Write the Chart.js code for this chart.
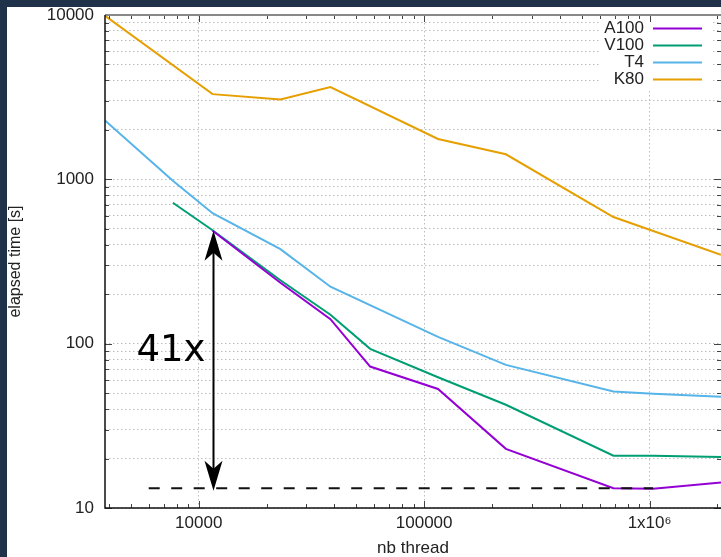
<!DOCTYPE html>
<html>
<head>
<meta charset="utf-8">
<script src="https://cdn.jsdelivr.net/npm/chart.js@4.4.1/dist/chart.umd.min.js"></script>
<style>
  html, body { margin: 0; padding: 0; background: #1f3249; overflow: hidden; }
  #wrap { position: absolute; left: 7px; top: 7px; width: 714px; height: 550px; background: #fff; }
</style>
</head>
<body>
<div id="wrap"><canvas id="timeChart" width="714" height="550"></canvas></div>
<script>
// nb thread on x, elapsed time [s] on y (both log)
var threads = [3840, 7680, 11520, 23040, 38400, 57600, 115200, 230400, 691200, 1036800, 2073600]
var a100 = [null, null, 486, 235, 141, 72.6, 53, 22.9, 13.2, 13.1, 14.3]
var v100 = [null, 720, 490, 243, 150, 93, 62.5, 42.5, 20.8, 20.8, 20.4]
var t4 = [2280, 980, 622, 376, 222, null, 110, 74.3, 51.2, 49.6, 47.6]
var k80 = [9900, null, 3300, 3060, 3640, null, 1760, 1420, 590, null, 347]
var gpuNames = ['A100', 'V100', 'T4', 'K80']
var gpuColors = ['#9400d3', '#009e73', '#56b4e9', '#e69f00']
var yTickLabels = [10, 100, 1000, 10000]
var xTickLabels = { 10000: '10000', 100000: '100000', 1000000: '1x10⁶' }
var speedupText = '41x'
var dashStart = 6000
var textFont = '"Liberation Sans", Arial, sans-serif'

function logTicks(min, max) {
  var out = []
  for (var e = Math.floor(Math.log10(min)); e <= Math.ceil(Math.log10(max)); e++) {
    for (var m = 1; m < 10; m++) {
      var v = m * Math.pow(10, e)
      if (v >= min * 0.999 && v <= max * 1.001) out.push(v)
    }
  }
  return out
}
function isMajor(v) {
  var l = Math.log10(v)
  return Math.abs(l - Math.round(l)) < 1e-9
}
function toPoints(vals) {
  return threads.map(function (t, i) { return { x: t, y: vals[i] } })
    .filter(function (p) { return p.y != null })
}

var series = [a100, v100, t4, k80]

var gnuFrame = {
  id: 'gnuFrame',
  afterDatasetsDraw: function (chart) {
    var ctx = chart.ctx
    var area = chart.chartArea
    var xs = chart.scales.x
    var ys = chart.scales.y
    ctx.save()

    // legend box, top right
    var textRight = area.right - 77
    ctx.fillStyle = '#fff'
    ctx.fillRect(textRight - 43, area.top + 1, 110, 74)
    ctx.font = '17px ' + textFont
    ctx.textAlign = 'right'
    ctx.textBaseline = 'middle'
    gpuNames.forEach(function (name, i) {
      var y = area.top + 13 + i * 17
      ctx.fillStyle = '#222'
      ctx.fillText(name, textRight, y)
      ctx.strokeStyle = gpuColors[i]
      ctx.lineWidth = 2
      ctx.beginPath()
      ctx.moveTo(area.right - 68, y + 0.5)
      ctx.lineTo(area.right - 19, y + 0.5)
      ctx.stroke()
    })

    // best A100 time, dashed
    var minVal = Math.min.apply(null, a100.filter(function (v) { return v != null }))
    var minIdx = a100.indexOf(minVal)
    var yMin = ys.getPixelForValue(minVal)
    ctx.strokeStyle = '#111'
    ctx.lineWidth = 2
    ctx.setLineDash([11, 11.5])
    ctx.beginPath()
    ctx.moveTo(xs.getPixelForValue(dashStart), yMin - 0.5)
    ctx.lineTo(xs.getPixelForValue(threads[minIdx]), yMin - 0.5)
    ctx.stroke()
    ctx.setLineDash([])

    // speedup arrow
    var firstIdx = a100.findIndex(function (v) { return v != null })
    var ax = Math.round(xs.getPixelForValue(threads[firstIdx])) + 0.5
    var yTop = ys.getPixelForValue(a100[firstIdx])
    var yBot = yMin + 2
    ctx.fillStyle = '#000'
    ctx.strokeStyle = '#000'
    ctx.lineWidth = 2
    ctx.beginPath()
    ctx.moveTo(ax, yTop + 20)
    ctx.lineTo(ax, yBot - 20)
    ctx.stroke()
    function head(tipY, dir) {
      ctx.beginPath()
      ctx.moveTo(ax, tipY)
      ctx.lineTo(ax - 9, tipY - dir * 30)
      ctx.lineTo(ax, tipY - dir * 22)
      ctx.lineTo(ax + 9, tipY - dir * 30)
      ctx.closePath()
      ctx.fill()
    }
    head(yTop, -1)
    head(yBot, 1)

    ctx.font = '37px "DejaVu Sans", sans-serif'
    ctx.textAlign = 'right'
    ctx.textBaseline = 'middle'
    ctx.fillText(speedupText, ax - 8, ys.getPixelForValue(90))

    // inward tick marks, mirrored
    ctx.strokeStyle = '#444'
    ctx.lineWidth = 1
    ys.ticks.forEach(function (t) {
      var y = Math.round(ys.getPixelForValue(t.value)) + 0.5
      var len = isMajor(t.value) ? 7 : 4
      ctx.beginPath()
      ctx.moveTo(area.left, y); ctx.lineTo(area.left + len, y)
      ctx.moveTo(area.right, y); ctx.lineTo(area.right - len, y)
      ctx.stroke()
    })
    xs.ticks.forEach(function (t) {
      var x = Math.round(xs.getPixelForValue(t.value)) + 0.5
      var len = isMajor(t.value) ? 7 : 4
      ctx.beginPath()
      ctx.moveTo(x, area.bottom); ctx.lineTo(x, area.bottom - len)
      ctx.moveTo(x, area.top); ctx.lineTo(x, area.top + len)
      ctx.stroke()
    })

    // border
    ctx.strokeStyle = '#888'
    ctx.lineWidth = 2
    ctx.beginPath()
    ctx.moveTo(area.left, area.top); ctx.lineTo(area.right, area.top)
    ctx.stroke()
    ctx.strokeStyle = '#111'
    ctx.lineWidth = 1.5
    ctx.beginPath()
    ctx.moveTo(area.left, area.top); ctx.lineTo(area.left, area.bottom); ctx.lineTo(area.right, area.bottom)
    ctx.stroke()
    ctx.restore()
  }
}

var ctx = document.getElementById('timeChart').getContext('2d')
var timeChart = new Chart(ctx, {
  type: 'line',
  data: {
    datasets: gpuNames.map(function (name, i) {
      return {
        label: name,
        data: toPoints(series[i]),
        borderColor: gpuColors[i],
        borderWidth: 2,
        pointRadius: 0,
        tension: 0,
        fill: false,
      }
    }),
  },
  options: {
    responsive: false,
    animation: false,
    layout: { padding: { top: 8, left: 0, right: 0, bottom: 0 } },
    plugins: { legend: { display: false }, tooltip: { enabled: false } },
    scales: {
      x: {
        type: 'logarithmic',
        min: threads[0],
        max: threads[threads.length - 1],
        afterBuildTicks: function (scale) {
          scale.ticks = logTicks(scale.min, scale.max).map(function (v) { return { value: v, major: isMajor(v) } })
        },
        afterFit: function (scale) {
          scale.height = 49
          scale.paddingLeft = 0
          scale.paddingRight = 0
        },
        ticks: {
          autoSkip: false,
          maxRotation: 0,
          padding: 5,
          color: '#222',
          font: { family: textFont, size: 17 },
          callback: function (v) { return xTickLabels[v] || '' },
        },
        grid: {
          drawTicks: false,
          color: function (c) { return c.tick && isMajor(c.tick.value) ? '#bdbdbd' : 'rgba(0,0,0,0)' },
        },
        border: { display: false, dash: [1.5, 2.5] },
        title: {
          display: true,
          text: 'nb thread',
          color: '#222',
          font: { family: textFont, size: 17, lineHeight: 1 },
          padding: 0,
        },
      },
      y: {
        type: 'logarithmic',
        min: yTickLabels[0],
        max: yTickLabels[yTickLabels.length - 1],
        afterBuildTicks: function (scale) {
          scale.ticks = logTicks(scale.min, scale.max).map(function (v) { return { value: v, major: isMajor(v) } })
        },
        afterFit: function (scale) {
          scale.width = 98
          scale.paddingTop = 0
          scale.paddingBottom = 0
        },
        ticks: {
          autoSkip: false,
          padding: 11,
          color: '#222',
          font: { family: textFont, size: 17 },
          callback: function (v) { return yTickLabels.indexOf(v) >= 0 ? String(v) : '' },
        },
        grid: { drawTicks: false, color: '#bdbdbd' },
        border: { display: false, dash: [1.5, 2.5] },
        title: {
          display: true,
          text: 'elapsed time [s]',
          color: '#222',
          font: { family: textFont, size: 16, lineHeight: 1 },
          padding: { top: 1, bottom: 0 },
        },
      },
    },
  },
  plugins: [gnuFrame],
})
</script>
</body>
</html>
